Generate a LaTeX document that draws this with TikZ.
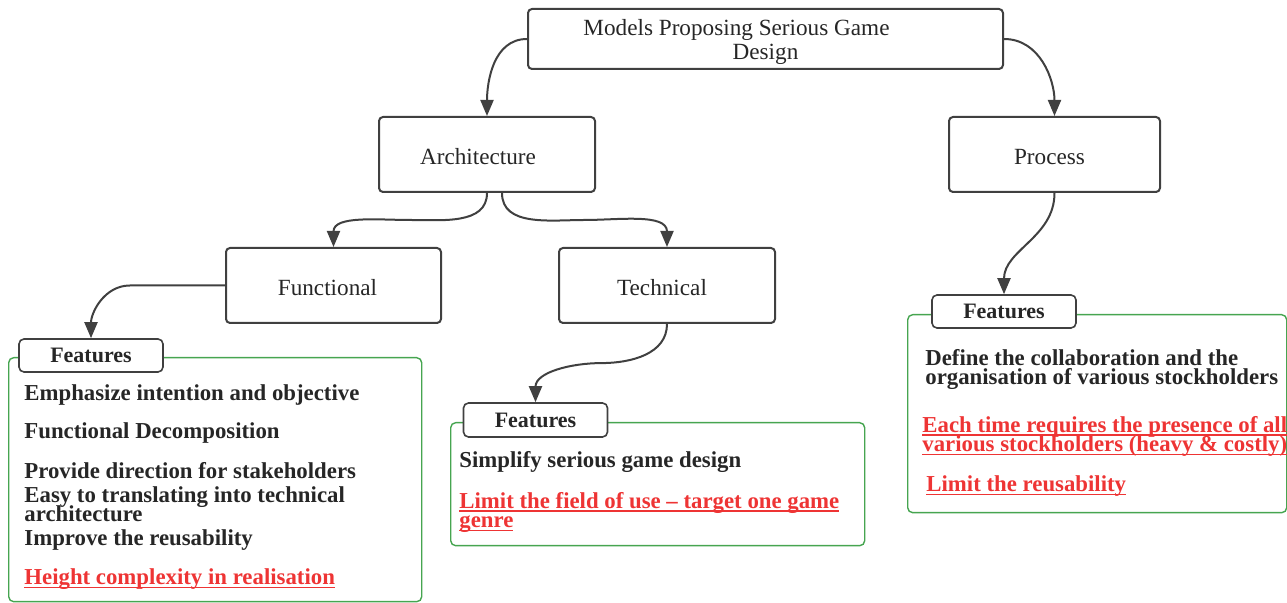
\documentclass[tikz,border=0pt]{standalone}
\usepackage{fontspec}
\setmainfont{Liberation Serif}
\usepackage{xcolor}
\usetikzlibrary{arrows.meta,positioning,calc}

\definecolor{linegray}{RGB}{64,64,64}
\definecolor{textgray}{RGB}{38,38,38}
\definecolor{panelgreen}{RGB}{70,165,80}
\definecolor{alertred}{RGB}{238,52,52}

% underline drawn just under the baseline, through the descenders
\newcommand{\flawline}[1]{\setbox0\hbox{#1}\rlap{\rule[-1.6pt]{\wd0}{0.6pt}}\box0}
% bold list text with tight line spacing
\newcommand{\itemfont}{\bfseries\fontsize{11.4}{9.8}\selectfont\lineskiplimit=-20pt\relax}

\begin{document}
\begin{tikzpicture}[
    x=0.5pt, y=-0.5pt,
    box/.style={rectangle, draw=linegray, rounded corners=2pt, line width=1pt, text=textgray, font=\fontsize{11.6}{12}\selectfont},
    tab/.style={rectangle, draw=linegray, fill=white, rounded corners=2.5pt, line width=0.8pt, minimum width=72pt, minimum height=16.5pt, inner sep=0pt, text=textgray, font=\bfseries\fontsize{11}{13}\selectfont},
    panel/.style={rectangle, draw=panelgreen, rounded corners=2.5pt, line width=0.7pt, anchor=north west, inner sep=0pt},
    item/.style={anchor=base west, inner sep=0pt, align=left, text=textgray, font=\itemfont},
    flaw/.style={item, text=alertred},
    arrow/.style={-{Triangle[length=8pt,width=6.5pt]}, line width=1pt, draw=linegray}
]
    \useasboundingbox (0,0) rectangle (1287,603);

    % Top level
    \node[box, minimum width=237.5pt, minimum height=30pt, inner ysep=1pt, align=center] (models) at (765.5,39) {\rule{0pt}{11.5pt}Models Proposing Serious Game\hspace*{29pt}\\Design};

    % Second level
    \node[box, minimum width=108pt, minimum height=37.5pt] (arch) at (487,154.5) {\rule{0pt}{10pt}Architecture\hspace*{9pt}};
    \node[box, minimum width=105.5pt, minimum height=37.5pt] (proc) at (1054.5,154.5) {\rule{0pt}{10pt}Process\hspace*{5pt}};

    % Third level (architecture kinds)
    \node[box, minimum width=107.5pt, minimum height=37.5pt] (func) at (333.5,285.5) {\rule{0pt}{10pt}Functional\hspace*{6pt}};
    \node[box, minimum width=108pt, minimum height=37.5pt] (tech) at (667,285.5) {\rule{0pt}{10pt}Technical\hspace*{5pt}};

    % Feature panels
    \node[panel, minimum width=206.5pt, minimum height=122pt] (panelF) at (8,357) {};
    \node[panel, minimum width=207pt, minimum height=61.5pt] (panelT) at (450,422) {};
    \node[panel, minimum width=189.5pt, minimum height=99pt] (panelP) at (907,314) {};

    \node[tab] (tabF) at (91,355.5) {Features};
    \node[tab, minimum height=17pt] (tabT) at (535.5,420) {Features};
    \node[tab] (tabP) at (1004,311.5) {Features};

    % Functional features
    \node[item] (f1) at (24,401) {Emphasize intention and objective};
    \node[item] (f2) at (24,439) {Functional Decomposition};
    \node[item] (f3) at (24,479) {Provide direction for stakeholders};
    \node[item] (f4) at (24,522) {Easy to translating into technical\\architecture};
    \node[item] (f5) at (24,546) {Improve the reusability};
    \node[flaw] (f6) at (24,585) {\flawline{Height complexity in realisation}};

    % Technical features
    \node[item] (t1) at (459,468) {Simplify serious game design};
    \node[flaw] (t2) at (459,528) {\flawline{Limit the field of use -- target one game}\\\flawline{genre}};

    % Process features
    \node[item] (p1) at (925,385) {Define the collaboration and the\\organisation of various stockholders};
    \node[flaw] (p2) at (922,452) {\flawline{Each time requires the presence of all}\\\flawline{various stockholders (heavy \& costly)}};
    \node[flaw] (p3) at (926,492) {\flawline{Limit the reusability}};

    % Connectors
    \draw[arrow] (models.west) to[out=180, in=90] (arch.north);
    \draw[arrow] (models.east) to[out=0, in=90] (proc.north);
    \draw[arrow] (arch.south) to[out=-90, in=0] ($(arch.south)!0.5!(func.north)$) to[out=180, in=90] (func.north);
    \draw[arrow] ([xshift=7.5pt]arch.south) to[out=-90, in=180] ($([xshift=7.5pt]arch.south)!0.5!(tech.north)$) to[out=0, in=90] (tech.north);
    \draw[arrow] (func.west) -- (130,285.5) to[out=180, in=90] (tabF.north);
    \draw[arrow] (tech.south) to[out=-90, in=0] ($(tech.south)!0.5!(tabT.north)$) to[out=180, in=90] (tabT.north);
    \draw[arrow] (proc.south) to[out=-90, in=90] (tabP.north);
\end{tikzpicture}
\end{document}
